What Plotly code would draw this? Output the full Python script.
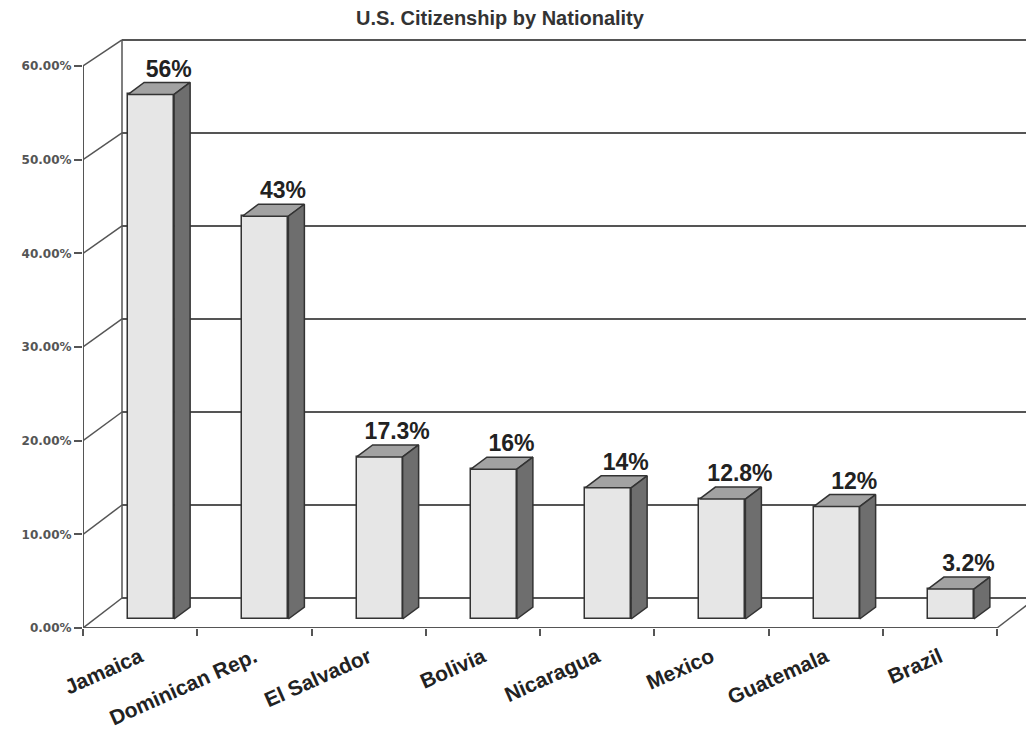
import plotly.graph_objects as go

# Data
countries = ["Jamaica", "Dominican Rep.", "El Salvador", "Bolivia",
             "Nicaragua", "Mexico", "Guatemala", "Brazil"]
citizenship_pct = [56, 43, 17.3, 16, 14, 12.8, 12, 3.2]
y_ticks = [0, 10, 20, 30, 40, 50, 60]

# Geometry of the pseudo-3D frame (in axis units)
W, H = 1026, 733
ML, MR, MT, MB = 83, 0, 35, 105
PX_PER_CAT = 114.25
PX_PER_PCT = 562 / 60
XMAX = (W - ML - MR) / PX_PER_CAT
YMAX = (H - MT - MB) / PX_PER_PCT

WALL_DX = 39 / PX_PER_CAT     # depth of back wall
WALL_DY = 30 / PX_PER_PCT
WALL_SCALE = 0.993            # back wall is slightly foreshortened
FRONT_DX = 11 / PX_PER_CAT    # bars sit slightly behind the front plane
FRONT_DY = 9 / PX_PER_PCT
BAR_W = 46 / PX_PER_CAT
DEPTH_DX = 16 / PX_PER_CAT    # bar depth
DEPTH_DY = 12 / PX_PER_PCT

GRID = "#555555"
OUTLINE = "#333333"
FRONT = "#e6e6e6"
TOP = "#a2a2a2"
SIDE = "#6e6e6e"


def wall_y(v):
    return WALL_DY + v * WALL_SCALE


fig = go.Figure()

shapes = []
for v in y_ticks:
    # back wall grid lines (the 60 line is the wall's top edge)
    shapes.append(dict(type="line", xref="x", yref="y", layer="below",
                       x0=WALL_DX, y0=wall_y(v), x1=XMAX + 0.5, y1=wall_y(v),
                       line=dict(color=GRID, width=2)))
    # left side-wall diagonals
    shapes.append(dict(type="line", xref="x", yref="y", layer="below",
                       x0=0, y0=v, x1=WALL_DX, y1=wall_y(v),
                       line=dict(color=GRID, width=1.5)))
# back wall left edge
shapes.append(dict(type="line", xref="x", yref="y", layer="below",
                   x0=WALL_DX, y0=wall_y(0), x1=WALL_DX, y1=wall_y(60),
                   line=dict(color=GRID, width=1.5)))
# floor right edge
n = len(countries)
shapes.append(dict(type="line", xref="x", yref="y", layer="below",
                   x0=n, y0=0, x1=n + WALL_DX, y1=wall_y(0),
                   line=dict(color=GRID, width=1.5)))
# front axes
shapes.append(dict(type="line", xref="x", yref="y", layer="above",
                   x0=0, y0=0, x1=0, y1=60, line=dict(color=GRID, width=2)))
shapes.append(dict(type="line", xref="x", yref="y", layer="above",
                   x0=0, y0=0, x1=n, y1=0, line=dict(color=GRID, width=2)))

# front faces of the bars
xs = [i + 0.5 + FRONT_DX for i in range(n)]
fig.add_trace(go.Bar(
    x=xs, y=citizenship_pct, base=[FRONT_DY] * n, width=BAR_W,
    marker=dict(color=FRONT, line=dict(color=OUTLINE, width=1.5)),
    hoverinfo="skip", showlegend=False))

# top and side faces
for xc, v in zip(xs, citizenship_pct):
    xl, xr = xc - BAR_W / 2, xc + BAR_W / 2
    yb, yt = FRONT_DY, FRONT_DY + v
    fig.add_trace(go.Scatter(
        x=[xl, xr, xr + DEPTH_DX, xl + DEPTH_DX, xl],
        y=[yt, yt, yt + DEPTH_DY, yt + DEPTH_DY, yt],
        mode="lines", fill="toself", fillcolor=TOP,
        line=dict(color=OUTLINE, width=1.5),
        hoverinfo="skip", showlegend=False))
    fig.add_trace(go.Scatter(
        x=[xr, xr + DEPTH_DX, xr + DEPTH_DX, xr, xr],
        y=[yb, yb + DEPTH_DY, yt + DEPTH_DY, yt, yb],
        mode="lines", fill="toself", fillcolor=SIDE,
        line=dict(color=OUTLINE, width=1.5),
        hoverinfo="skip", showlegend=False))

# value labels above each bar
fig.add_trace(go.Scatter(
    x=[x + DEPTH_DX * 1.1 for x in xs],
    y=[v + FRONT_DY + DEPTH_DY for v in citizenship_pct],
    mode="text", text=[f"{v:g}%" for v in citizenship_pct],
    textposition="top center",
    textfont=dict(family="Liberation Sans, Arial", size=23, color="#222222",
                  weight="bold"),
    hoverinfo="skip", showlegend=False))

# invisible trace to activate the tick-mark axis
fig.add_trace(go.Scatter(x=[0, n], y=[0, 0], xaxis="x2", mode="markers",
                         marker=dict(opacity=0), hoverinfo="skip",
                         showlegend=False))

fig.update_layout(
    width=W, height=H,
    margin=dict(l=ML, r=MR, t=MT, b=MB),
    paper_bgcolor="white", plot_bgcolor="white",
    shapes=shapes,
    title=dict(text="<b>U.S. Citizenship by Nationality</b>",
               x=500 / W, xanchor="center", y=1 - 18 / H, yanchor="middle",
               font=dict(family="Liberation Sans, Arial", size=20,
                         color="#333333")),
    xaxis=dict(range=[0, XMAX], showgrid=False, zeroline=False,
               showline=False, tickmode="array", automargin=False,
               tickvals=[i + 0.5 for i in range(n)], ticktext=countries,
               ticks="", tickangle=-24, ticklabelstandoff=12,
               tickfont=dict(family="Liberation Sans, Arial", size=21,
                             color="#222222", weight="bold")),
    xaxis2=dict(range=[0, XMAX], overlaying="x", anchor="y", side="bottom",
                showgrid=False, zeroline=False, showline=False,
                automargin=False,
                tickmode="array", tickvals=list(range(n + 1)),
                showticklabels=False, ticks="outside", ticklen=7,
                tickwidth=2, tickcolor=GRID),
    yaxis=dict(range=[0, YMAX], showgrid=False, zeroline=False,
               showline=False, tickmode="array", tickvals=y_ticks,
               automargin=False,
               ticktext=[f"{v:.2f}%" for v in y_ticks],
               ticks="outside", ticklen=8, tickwidth=2, tickcolor=GRID,
               tickfont=dict(family="DejaVu Sans, Verdana", size=12,
                             color="#555555", weight="bold")),
    bargap=0,
)

fig.write_html("out.html")
